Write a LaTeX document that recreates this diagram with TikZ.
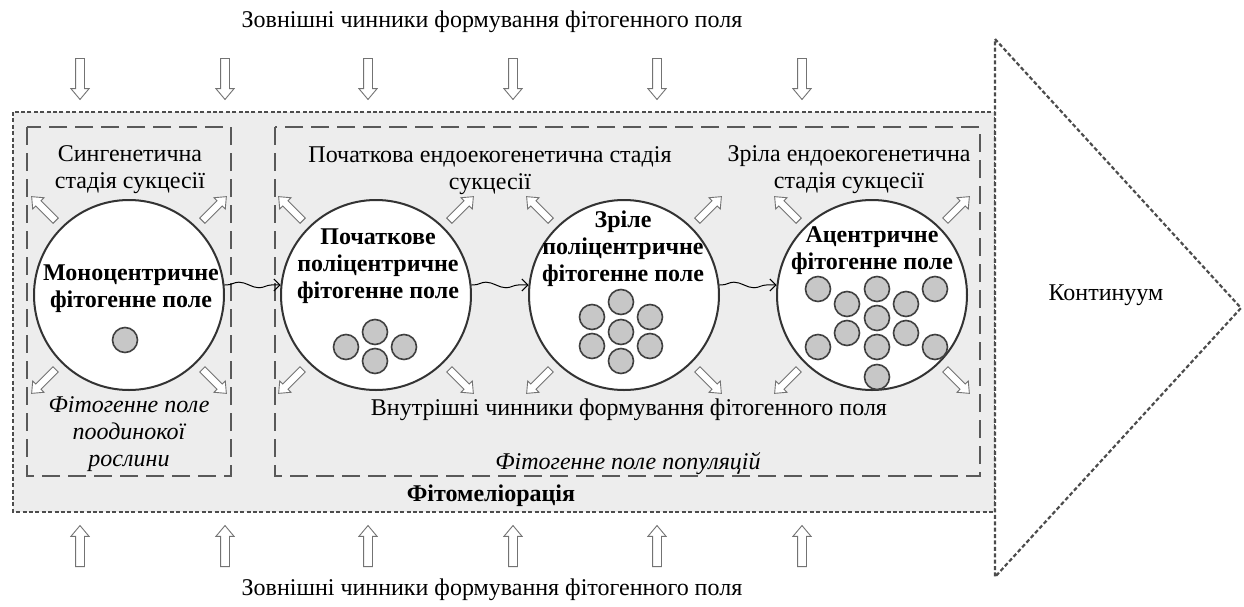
\documentclass[tikz,border=0pt]{standalone}
\usepackage{fontspec}
\setmainfont{Liberation Serif}
\usetikzlibrary{shapes.arrows,decorations.pathmorphing,arrows.meta}
\newcommand\figfont{\fontsize{12}{13.5}\selectfont}
\tikzset{
  txt/.style={font=\figfont, align=center, inner sep=0pt},
  btxt/.style={font=\figfont\bfseries, align=center, inner sep=0pt},
  itxt/.style={font=\figfont\itshape, align=center, inner sep=0pt},
  fatarrow/.style={single arrow, draw=black!55, fill=white, line width=0.45pt,
    minimum height=17pt, inner sep=1.6pt, single arrow head extend=2.2pt,
    single arrow tip angle=80, anchor=tail},
  bigarrow/.style={fatarrow, minimum height=20.5pt, inner sep=2pt,
    single arrow head extend=2.3pt},
  field/.style={circle, draw=black!80, line width=1pt, fill=white,
    minimum size=95pt, inner sep=0pt},
  dot/.style={draw=black!75, line width=0.8pt, fill=black!22},
  stagebox/.style={draw=black!65, line width=0.6pt, dash pattern=on 9pt off 4pt},
  meliobox/.style={draw=black!70, line width=1.1pt, dash pattern=on 2pt off 1.2pt},
  wavy/.style={-{Straight Barb[length=3pt,width=6pt]}, line width=0.5pt, decorate,
    decoration={snake, amplitude=1.4pt, segment length=20pt, pre length=1pt, post length=3pt}},
}
\begin{document}
\begin{tikzpicture}[x=0.5pt, y=-0.5pt]
\useasboundingbox (0,0) rectangle (1244,606);
% phytomelioration frame and continuum arrow
\draw[meliobox, fill=black!7] (13,112) rectangle (995,512);
\draw[meliobox, fill=white] (995,39) -- (1241,308) -- (995,577) -- cycle;
\node[txt] (cont) at (1106,295) {Континуум};
% stage boxes
\draw[stagebox] (27,127) rectangle (231,476);
\draw[stagebox] (275,127) rectangle (980,476);
% outer factors
\node[txt] (topf) at (492,22) {Зовнішні чинники формування фітогенного поля};
\node[txt] (botf) at (492,590) {Зовнішні чинники формування фітогенного поля};
\foreach \x [count=\i] in {80,225,368,513,657,802} {
  \node[bigarrow, rotate=-90] (top\i) at (\x,58) {};
  \node[bigarrow, rotate=90] (bot\i) at (\x,567) {};
}
% stages
\node[txt] (s1) at (130,170) {Сингенетична\\стадія сукцесії};
\node[txt] (s2) at (490,171) {Початкова ендоекогенетична стадія\\сукцесії};
\node[txt] (s3) at (849,170) {Зріла ендоекогенетична\\стадія сукцесії};
% fields
\foreach \n/\cx in {1/129,2/376,3/624,4/872}
  \node[field] (c\n) at (\cx,295) {};
\foreach \n in {1,...,4} {
  \node[fatarrow, rotate=135] (c\n-nw) at ([shift={(-73,-74)}]c\n.center) {};
  \node[fatarrow, rotate=45] (c\n-ne) at ([shift={(73,-74)}]c\n.center) {};
  \node[fatarrow, rotate=-135] (c\n-sw) at ([shift={(-73,74)}]c\n.center) {};
  \node[fatarrow, rotate=-45] (c\n-se) at ([shift={(73,74)}]c\n.center) {};
}
\node[btxt] (l1) at (131,289) {Моноцентричне\\фітогенне поле};
\node[btxt] (l2) at (378,266) {Початкове\\поліцентричне\\фітогенне поле};
\node[btxt] (l3) at (623,249) {Зріле\\поліцентричне\\фітогенне поле};
\node[btxt] (l4) at (872,251) {Ацентричне\\фітогенне поле};
% plants
\draw[dot] ([shift={(-4,45)}]c1.center) circle[radius=6.25pt];
\foreach \dx/\dy in {-30/52,-1/37,28/52,-1/66}
  \draw[dot] ([shift={(\dx,\dy)}]c2.center) circle[radius=6.25pt];
\foreach \dx/\dy in {-3/7,-32/22,26/22,-3/37,-32/51,26/51,-3/66}
  \draw[dot] ([shift={(\dx,\dy)}]c3.center) circle[radius=6.25pt];
\foreach \dx/\dy in {-54/-6,5/-6,63/-6,-25/9,34/9,5/23,-25/38,34/38,-54/52,5/52,63/52,5/82}
  \draw[dot] ([shift={(\dx,\dy)}]c4.center) circle[radius=6.25pt];
% succession
\draw[wavy] (c1.6) -- (c2.174);
\draw[wavy] (c2.6) -- (c3.174);
\draw[wavy] (c3.6) -- (c4.174);
% inner factors and captions
\node[txt] (innerf) at (629,410) {Внутрішні чинники формування фітогенного поля};
\node[itxt] (single) at (129,434) {Фітогенне поле\\поодинокої\\рослини};
\node[itxt] (pop) at (628,464) {Фітогенне поле популяцій};
\node[btxt] (melio) at (491,496) {Фітомеліорація};
\end{tikzpicture}
\end{document}
